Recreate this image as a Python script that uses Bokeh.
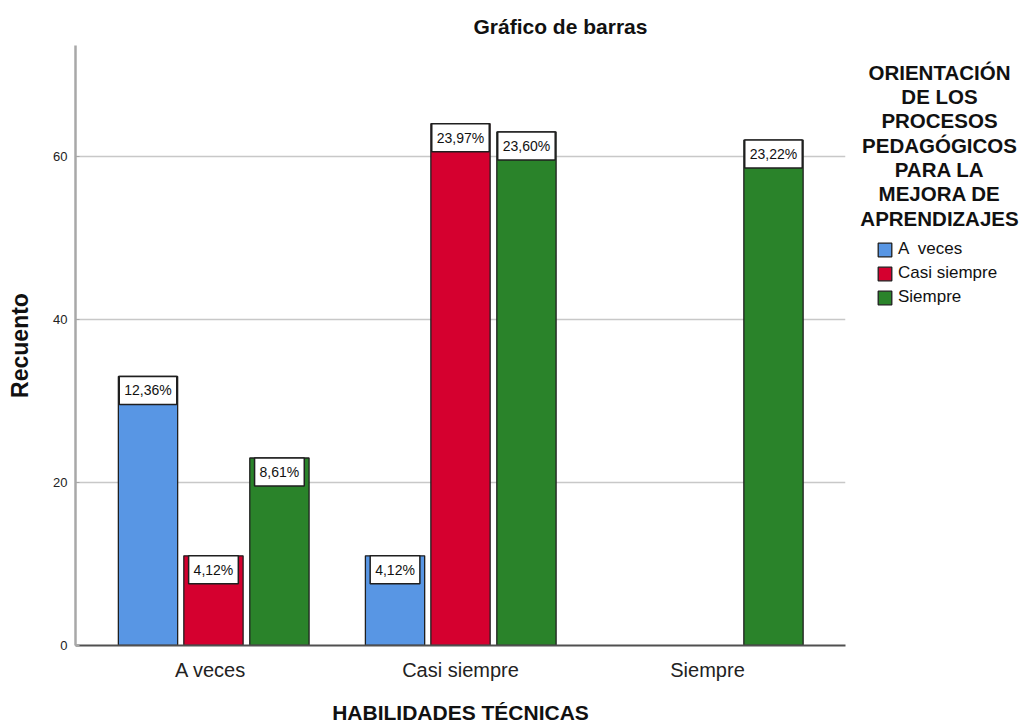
from bokeh.plotting import figure
from bokeh.layouts import row
from bokeh.models import (ColumnDataSource, FactorRange, Range1d, SingleIntervalTicker,
                          Legend, LegendItem, Label)
from bokeh.transform import dodge
from bokeh.core.properties import value
from bokeh.embed import file_html
from bokeh.resources import INLINE

# ---- data ----
categories = ["A  veces", "Casi siempre", "Siempre"]          # HABILIDADES TÉCNICAS
series_names = ["A  veces", "Casi siempre", "Siempre"]        # ORIENTACIÓN ... (legend)
counts_a_veces = [33, 11, 0]
counts_casi_siempre = [11, 64, 0]
counts_siempre = [23, 63, 62]
y_ticks_interval = 20

colors = ["#5896E4", "#D5002F", "#2A832A"]
offsets = [-0.265, 0.0, 0.267]
FONT = "Liberation Sans"

series_counts = [counts_a_veces, counts_casi_siempre, counts_siempre]
total = sum(sum(s) for s in series_counts)

p = figure(x_range=FactorRange(*categories, range_padding=0.0585, range_padding_units="absolute"),
           y_range=Range1d(0, 73.6),
           width=850, height=727, output_backend="svg", toolbar_location=None,
           min_border_left=75, min_border_right=5, min_border_top=45, min_border_bottom=82)

p.title.text = "Gráfico de barras"
p.title.align = "left"
p.title.offset = 398
p.title.text_font = FONT
p.title.text_font_size = "21px"
p.title.text_font_style = "bold"
p.title.text_color = "#111111"
p.title.standoff = 16

p.outline_line_color = None
p.background_fill_color = "white"
p.xgrid.visible = False
p.ygrid.grid_line_color = "#c8c8c8"
p.ygrid.grid_line_width = 1.5

p.yaxis.ticker = SingleIntervalTicker(interval=y_ticks_interval)
p.yaxis.axis_label = "Recuento"
p.yaxis.axis_label_text_font = FONT
p.yaxis.axis_label_text_font_size = "23px"
p.yaxis.axis_label_text_font_style = "bold"
p.yaxis.axis_label_text_color = "#111111"
p.yaxis.axis_label_standoff = 17
p.yaxis.major_label_text_font = FONT
p.yaxis.major_label_text_font_size = "13px"
p.yaxis.major_label_text_color = "#222222"
p.yaxis.major_label_standoff = 8
p.yaxis.axis_line_color = "#a8a8a8"
p.yaxis.axis_line_width = 2.5
p.yaxis.major_tick_out = 0
p.yaxis.major_tick_in = 4
p.yaxis.major_tick_line_color = "#a8a8a8"
p.yaxis.minor_tick_line_color = None
p.yaxis.minor_tick_out = 0

p.xaxis.axis_label = "HABILIDADES TÉCNICAS"
p.xaxis.axis_label_text_font = FONT
p.xaxis.axis_label_text_font_size = "21px"
p.xaxis.axis_label_text_font_style = "bold"
p.xaxis.axis_label_text_color = "#111111"
p.xaxis.axis_label_standoff = 17
p.xaxis.major_label_text_font = FONT
p.xaxis.major_label_text_font_size = "20px"
p.xaxis.major_label_text_color = "#222222"
p.xaxis.major_label_standoff = 13
p.xaxis.axis_line_color = "#505050"
p.xaxis.axis_line_width = 2
p.xaxis.major_tick_line_color = None
p.xaxis.major_tick_out = 0
p.xaxis.major_tick_in = 0
p.xaxis.minor_tick_line_color = None

# side panel holding the legend (its frame is aligned with the main frame: 600 px tall)
side = figure(width=173, height=727, x_range=Range1d(0, 173), y_range=Range1d(0, 600),
              x_axis_type=None, y_axis_type=None, output_backend="svg", toolbar_location=None,
              min_border=0)
side.grid.visible = False
side.outline_line_color = None

items = []
for name, vals, col, off in zip(series_names, series_counts, colors, offsets):
    cats = [c for c, v in zip(categories, vals) if v > 0]
    tops = [v for v in vals if v > 0]
    labels = [f"{v / total * 100:.2f}".replace(".", ",") + "%" for v in tops]
    src = ColumnDataSource(dict(cat=cats, top=tops, label=labels))
    p.vbar(x=dodge("cat", off, range=p.x_range), top="top", bottom=0, width=0.24,
           source=src, fill_color=col, line_color="#1f1f1f", line_width=1.3)
    p.text(x=dodge("cat", off, range=p.x_range), y="top", text="label", source=src,
           anchor="top_center", text_align="center", text_baseline="middle",
           padding=(5, 6), background_fill_color="white",
           border_line_color="#1f1f1f", border_line_width=1.5,
           text_font=value(FONT), text_font_size="14px", text_color="#111111")
    # legend key renderer: only carries the style, never shown
    key = side.vbar(x=[0], top=[0], width=0, fill_color=col, line_color="#1f1f1f",
                    line_width=1.3, visible=False)
    items.append(LegendItem(label=name, renderers=[key]))

legend = Legend(items=items, location=(26, 338),
                glyph_width=17, glyph_height=17, label_height=20, spacing=4,
                padding=0, margin=0, label_standoff=5,
                label_text_font=FONT, label_text_font_size="17px", label_text_color="#111111",
                border_line_color=None, background_fill_alpha=0,
                inactive_fill_alpha=0)
side.add_layout(legend)

legend_title = "ORIENTACIÓN\nDE LOS\nPROCESOS\nPEDAGÓGICOS\nPARA LA\nMEJORA DE\nAPRENDIZAJES"
side.add_layout(Label(x=89, y=585, text=legend_title,
                      text_align="center", text_baseline="top", text_font=FONT,
                      text_font_size="20.5px", text_font_style="bold", text_color="#111111",
                      text_line_height=1.06))

layout = row(p, side)
open("out.html", "w").write(file_html(layout, INLINE))
